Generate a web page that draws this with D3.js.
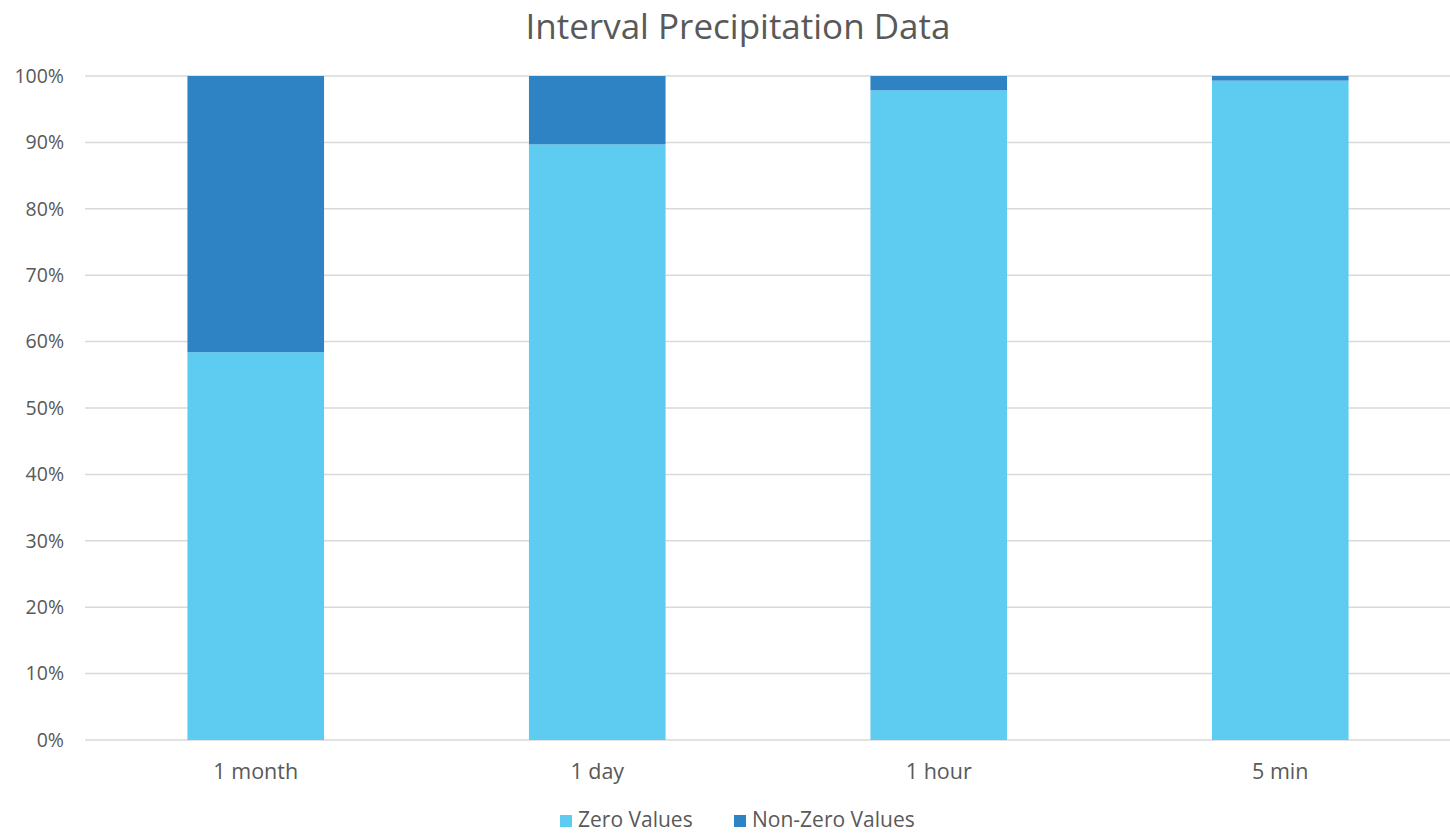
<!DOCTYPE html>
<html><head><meta charset="utf-8">
<script src="https://cdn.jsdelivr.net/npm/d3@7"></script>
<style>body{margin:0;background:#fff;} text{font-family:"Open Sans",sans-serif;fill:#595959;}</style>
</head><body>
<svg id="c" width="1450" height="835"></svg>
<script>
const categories = ["1 month","1 day","1 hour","5 min"];
const zeroValues = [58.4, 89.7, 97.85, 99.3];
const nonZeroValues = [41.6, 10.3, 2.15, 0.7];
const yTicks = [0,10,20,30,40,50,60,70,80,90,100];
const seriesNames = ["Zero Values","Non-Zero Values"];
const colors = ["#5ECBF0","#2E83C4"];

const svg = d3.select("#c");
const mLeft = 85, mRight = 1451, mTop = 76, mBottom = 740;
const x = d3.scaleBand().domain(categories).range([mLeft,mRight]).paddingInner(0.6).paddingOuter(0.3);
const y = d3.scaleLinear().domain([0,100]).range([mBottom,mTop]);

svg.append("text").attr("x",738).attr("y",39).attr("text-anchor","middle")
  .style("font-size","35px").text("Interval Precipitation Data");

const grid = svg.append("g");
yTicks.forEach(t=>{
  grid.append("line").attr("x1",mLeft).attr("x2",mRight).attr("y1",y(t)).attr("y2",y(t))
    .attr("stroke","#D9D9D9").attr("stroke-width",1.5);
  svg.append("text").attr("x",64).attr("y",y(t)).attr("dy","0.35em").attr("text-anchor","end")
    .style("font-size","19.5px").text(t+"%");
});

const data = categories.map((c,i)=>({c, zero:zeroValues[i], non:nonZeroValues[i]}));
const stack = d3.stack().keys(["zero","non"])(data);
stack.forEach((s,si)=>{
  svg.append("g").selectAll("rect").data(s).join("rect")
    .attr("x",d=>x(d.data.c)).attr("width",x.bandwidth())
    .attr("y",d=>y(d[1])).attr("height",d=>y(d[0])-y(d[1]))
    .attr("fill",colors[si]);
});

categories.forEach(c=>{
  svg.append("text").attr("x",x(c)+x.bandwidth()/2).attr("y",771).attr("dy","0.35em").attr("text-anchor","middle")
    .style("font-size","21.5px").text(c);
});

const legX = [560, 734];
seriesNames.forEach((n,i)=>{
  svg.append("rect").attr("x",legX[i]).attr("y",815).attr("width",12).attr("height",12).attr("fill",colors[i]);
  svg.append("text").attr("x",legX[i]+18).attr("y",820).attr("dy","0.35em").style("font-size","21px").text(n);
});
</script>
</body></html>
